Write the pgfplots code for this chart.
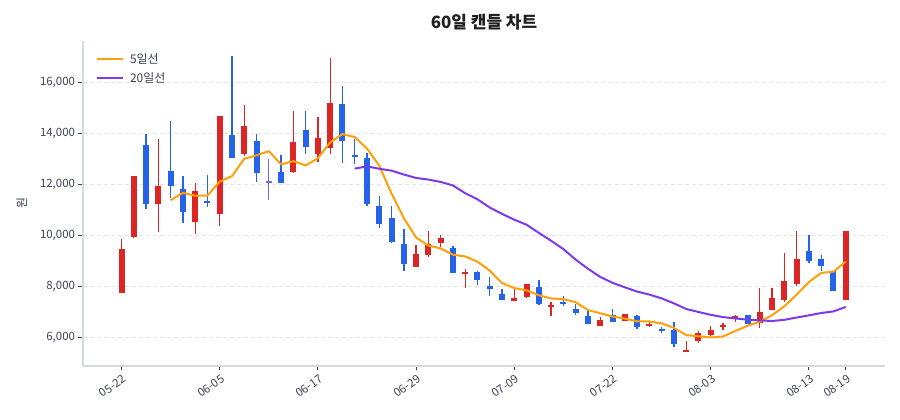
\documentclass[border=0pt]{standalone}
\usepackage{fontspec}
\setmainfont{Noto Sans CJK KR}
\usepackage{pgfplots}
\pgfplotsset{compat=1.18}
\usepackage{pgfplotstable}

\definecolor{upred}{HTML}{DC2626}
\definecolor{dnblue}{HTML}{2563EB}
\definecolor{flatc}{HTML}{6D6DF2}
\definecolor{ma5}{HTML}{FF9F0A}
\definecolor{ma20}{HTML}{7C3AED}
\definecolor{spine}{HTML}{D5D9E0}
\definecolor{gridc}{HTML}{E3E5E8}
\definecolor{txt}{HTML}{3B4252}

% candles, red = up, blue = down (i O H L C)
\pgfplotstableread{
i O H L C
0 7730 9870 7730 9480
1 9950 12330 9900 12330
3 11230 13790 10140 11930
6 10530 12040 10050 11760
8 10850 14670 10380 14670
10 13210 15120 13110 14310
14 12470 14900 12430 13660
16 13190 14650 12890 13840
17 13440 16980 13210 15200
24 8750 9610 8750 9270
25 9250 10180 9150 9650
26 9710 10030 9560 9900
28 8500 8680 7950 8550
32 7440 7900 7440 7540
33 7580 8100 7560 8090
35 7180 7390 6820 7260
39 6440 6780 6440 6670
41 6650 6900 6650 6900
43 6440 6610 6400 6540
46 5430 5860 5430 5480
47 5860 6240 5790 6170
48 6100 6460 6040 6300
49 6390 6580 6300 6470
50 6770 6880 6600 6820
52 6560 7930 6350 6990
53 7060 7930 7060 7560
54 7480 9310 7390 8220
55 8100 10170 8030 9090
59 7480 10170 7450 10170
}\up

\pgfplotstableread{
i O H L C
2 13540 13970 11050 11230
4 12520 14500 11450 11950
5 11840 12340 10500 10910
7 11370 12380 11100 11270
9 13930 17030 13030 13030
11 13710 13970 12080 12430
13 12470 13140 12070 12070
15 14130 14890 13190 13480
18 15150 15880 12850 13710
19 13150 13800 12800 13070
20 13050 13240 11150 11220
21 11150 11540 10290 10460
22 10690 11160 9690 9750
23 9660 10270 8600 8880
27 9490 9580 8510 8510
29 8550 8610 8040 8250
30 8030 8370 7630 7880
31 7690 7880 7450 7450
34 7970 8260 7250 7290
36 7370 7610 7240 7310
37 7100 7290 6880 6950
38 6840 7020 6540 6540
40 6860 7110 6610 6610
42 6840 6880 6330 6410
44 6330 6400 6170 6270
45 6270 6600 5620 5750
51 6880 6880 6510 6510
56 9370 10030 8910 8980
57 9060 9230 8600 8800
58 8600 8600 7800 7800
}\down

\pgfplotstableread{
i O H L C
12 12100 12980 11390 12100
}\flat

\pgfplotsset{
  wick/.style={mark=none, draw=none, forget plot,
    error bars/.cd, y dir=both, y explicit, error mark=none,
    error bar style={draw=#1, line width=1.3bp}},
  body/.style={mark=none, draw=none, forget plot,
    error bars/.cd, y dir=both, y explicit, error mark=none,
    error bar style={draw=#1, line width=6bp}},
}

\begin{document}
\begin{tikzpicture}
\useasboundingbox (0,0) rectangle (900bp,420bp);
\begin{axis}[
  at={(83bp,54bp)}, anchor=south west,
  scale only axis, width=802bp, height=325bp,
  xmin=-3.14, xmax=62.2, ymin=4875, ymax=17630,
  axis x line*=bottom, axis y line*=left,
  axis line style={spine, line width=1.3bp},
  tick align=outside, major tick length=4.5bp,
  tick style={txt, line width=0.9bp},
  xtick={0,8,16,24,32,40,48,56,59},
  xticklabels={05-22,06-05,06-17,06-29,07-09,07-22,08-03,08-13,08-19},
  x tick label style={rotate=35, anchor=north east, xshift=2bp},
  ytick={6000,8000,10000,12000,14000,16000},
  scaled y ticks=false,
  y tick label style={/pgf/number format/.cd, fixed, 1000 sep={,}, assume math mode=true},
  ticklabel style={font=\fontsize{11.5}{13}\selectfont, text=txt},
  ymajorgrids,
  major grid style={gridc, line width=0.8bp, dash pattern=on 4bp off 3bp},
  ylabel={원},
  ylabel style={font=\fontsize{12}{14}\selectfont, text=txt, xshift=0bp, yshift=6bp},
  legend style={at={(axis description cs:0.012,0.975)}, anchor=north west,
    draw=none, fill=none, font=\fontsize{12}{14}\selectfont, text=txt,
    row sep=4bp, cells={anchor=west}, nodes={inner xsep=6bp}},
  legend image code/.code={\draw[#1, line width=2.2bp] (0bp,0bp) -- (26bp,0bp);},
]
\addplot[wick=upred] table[x=i, y expr={(\thisrow{H}+\thisrow{L})/2}, y error expr={(\thisrow{H}-\thisrow{L})/2}] {\up};
\addplot[body=upred] table[x=i, y expr={(\thisrow{O}+\thisrow{C})/2}, y error expr={max(abs(\thisrow{C}-\thisrow{O})/2,40)}] {\up};
\addplot[wick=dnblue] table[x=i, y expr={(\thisrow{H}+\thisrow{L})/2}, y error expr={(\thisrow{H}-\thisrow{L})/2}] {\down};
\addplot[body=dnblue] table[x=i, y expr={(\thisrow{O}+\thisrow{C})/2}, y error expr={max(abs(\thisrow{C}-\thisrow{O})/2,40)}] {\down};
\addplot[wick=flatc] table[x=i, y expr={(\thisrow{H}+\thisrow{L})/2}, y error expr={(\thisrow{H}-\thisrow{L})/2}] {\flat};
\addplot[body=flatc] table[x=i, y expr={(\thisrow{O}+\thisrow{C})/2}, y error expr={max(abs(\thisrow{C}-\thisrow{O})/2,40)}] {\flat};

\addplot[ma5, line width=2bp, line join=round] coordinates {
(4,11384)(5,11670)(6,11556)(7,11564)(8,12112)(9,12328)(10,13008)(11,13142)(12,13308)(13,12788)(14,12914)(15,12748)(16,13030)(17,13650)(18,13978)(19,13860)(20,13408)(21,12732)(22,11642)(23,10676)(24,9916)(25,9602)(26,9490)(27,9242)(28,9176)(29,8972)(30,8618)(31,8128)(32,7934)(33,7842)(34,7650)(35,7526)(36,7498)(37,7380)(38,7070)(39,6946)(40,6816)(41,6734)(42,6626)(43,6626)(44,6546)(45,6374)(46,6090)(47,6042)(48,5994)(49,6034)(50,6248)(51,6454)(52,6618)(53,6870)(54,7220)(55,7674)(56,8168)(57,8530)(58,8578)(59,8968)
};
\addlegendentry{5일선}
\addplot[ma20, line width=2bp, line join=round] coordinates {
(19,12622)(20,12709)(21,12615)(22,12541)(23,12389)(24,12255)(25,12192)(26,12099)(27,11961)(28,11655)(29,11416)(30,11094)(31,10845)(32,10617)(33,10418)(34,10100)(35,9789)(36,9462)(37,9050)(38,8691)(39,8371)(40,8141)(41,7963)(42,7796)(43,7679)(44,7529)(45,7334)(46,7113)(47,6996)(48,6883)(49,6794)(50,6741)(51,6694)(52,6667)(53,6640)(54,6687)(55,6778)(56,6862)(57,6954)(58,7017)(59,7192)
};
\addlegendentry{20일선}
\end{axis}
\node[font=\fontsize{17}{20}\selectfont\bfseries, text=black!88] at (484bp,398bp) {60일 캔들 차트};
\end{tikzpicture}
\end{document}
